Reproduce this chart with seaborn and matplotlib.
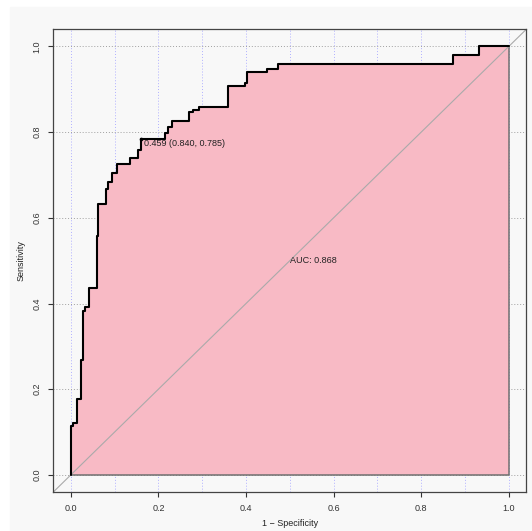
import numpy as np
import matplotlib
matplotlib.use('Agg')
import matplotlib.pyplot as plt
import seaborn as sns
from matplotlib.patches import Rectangle

sns.set_style('ticks')
plt.rcParams['font.family'] = ['Liberation Sans', 'DejaVu Sans']

# ROC staircase (1 - specificity, sensitivity)
fpr = [0.0, 0.0, 0.005, 0.0145, 0.024, 0.027, 0.032, 0.041, 0.060, 0.063,
       0.081, 0.084, 0.095, 0.106, 0.136, 0.153, 0.160, 0.215, 0.221, 0.231,
       0.270, 0.279, 0.293, 0.360, 0.397, 0.402, 0.447, 0.474, 0.872, 0.932, 1.0]
tpr = [0.0, 0.114, 0.122, 0.176, 0.269, 0.383, 0.391, 0.437, 0.558, 0.632,
       0.667, 0.684, 0.705, 0.726, 0.740, 0.758, 0.785, 0.799, 0.813, 0.827,
       0.846, 0.852, 0.859, 0.907, 0.914, 0.940, 0.947, 0.960, 0.980, 1.0, 1.0]

best_thr = 0.459
best_spec = 0.840
best_sens = 0.785
auc_value = 0.868

x_ticks = [0.0, 0.2, 0.4, 0.6, 0.8, 1.0]
y_ticks = [0.0, 0.2, 0.4, 0.6, 0.8, 1.0]
x_grid = [0.0, 0.1, 0.2, 0.3, 0.4, 0.5, 0.6, 0.7, 0.8, 0.9, 1.0]
y_grid = [0.0, 0.2, 0.4, 0.6, 0.8, 1.0]

panel = '#f8f8f8'
fig = plt.figure(figsize=(5.32, 5.31), dpi=100)
fig.patch.set_facecolor('white')
fig.add_artist(Rectangle((10 / 532, 0), 1, (531 - 7) / 531,
                         transform=fig.transFigure, color=panel, zorder=-10))

ax = fig.add_axes([0.1002, 0.0734, 0.8891, 0.8714])
ax.set_facecolor(panel)
ax.set_xlim(-0.04, 1.04)
ax.set_ylim(-0.04, 1.04)

# grid
for v in x_grid:
    ax.axvline(v, color='#b0b0ff', lw=0.7, ls=(0, (1, 2)), zorder=0)
for h in y_grid:
    ax.axhline(h, color='#a0a0a0', lw=0.7, ls=(0, (1, 2)), zorder=0)

# auc polygon
ax.fill_between(fpr, tpr, 0, step='post', facecolor='#f8bac5',
                edgecolor='#707070', lw=1.1, zorder=1)

# identity line
ax.axline((0, 0), (1, 1), color='#aaaaaa', lw=0.8, zorder=2)

# roc curve
sns.lineplot(x=fpr, y=tpr, estimator=None, sort=False, drawstyle='steps-post',
             color='black', lw=1.5, ax=ax, zorder=3)

# best threshold
sns.scatterplot(x=[1 - best_spec], y=[best_sens], color='black', s=7,
                linewidth=0, ax=ax, zorder=4)
ax.text(1 - best_spec + 0.008, best_sens - 0.012,
        f'{best_thr:.3f} ({best_spec:.3f}, {best_sens:.3f})',
        ha='left', va='center', fontsize=6.5, color='#222222', zorder=5)
ax.text(0.5, 0.5, f'AUC: {auc_value:.3f}', ha='left', va='center',
        fontsize=6.5, color='#222222', zorder=5)

# axes
ax.set_xticks(x_ticks)
ax.set_xticklabels([f'{t:.1f}' for t in x_ticks])
ax.set_yticks(y_ticks)
ax.set_yticklabels([f'{t:.1f}' for t in y_ticks], rotation=90, va='center')
ax.tick_params(length=3.6, width=0.8, pad=5, labelsize=6.5,
               colors='#333333', direction='out')
for s in ax.spines.values():
    s.set_visible(True)
    s.set_color('#444444')
    s.set_linewidth(0.9)

ax.set_xlabel('1 \u2212 Specificity', fontsize=6.5, color='#222222')
ax.set_ylabel('Sensitivity', fontsize=6.5, color='#222222')
ax.xaxis.set_label_coords(0.5, -0.0685)
ax.xaxis.label.set_va('center')
ax.yaxis.set_label_coords(-0.0683, 0.5)
ax.yaxis.label.set_va('center')

fig.savefig('out.png', dpi=100)
